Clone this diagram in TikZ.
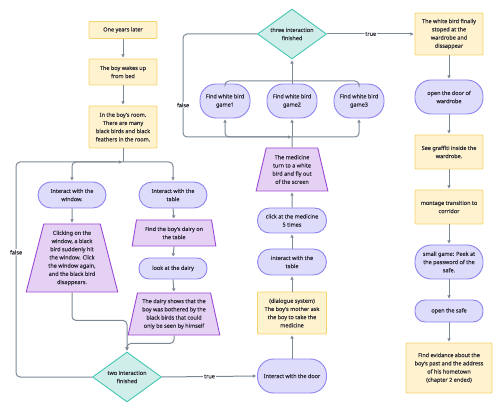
\documentclass[tikz,border=0pt]{standalone}
\usepackage{fontspec}
\setmainfont{Noto Sans}[UprightFeatures={FakeBold=0.35}]
\usetikzlibrary{shapes.geometric,arrows.meta}
\definecolor{amarillo}{HTML}{FFF2CF}
\definecolor{bordeAm}{HTML}{F6D36B}
\definecolor{morado}{HTML}{DEDCFB}
\definecolor{bordeMo}{HTML}{8E84F0}
\definecolor{lila}{HTML}{E5D1F4}
\definecolor{bordeLi}{HTML}{9C48D6}
\definecolor{verde}{HTML}{D0EEE9}
\definecolor{bordeVe}{HTML}{45C6B2}
\definecolor{gris}{HTML}{7D8896}
\definecolor{texto}{HTML}{2E2F38}
\begin{document}
\begin{tikzpicture}[x=1pt,y=-1pt,
    font=\fontsize{5.5}{8.2}\selectfont, text=texto,
    caja/.style={draw=bordeAm, fill=amarillo, line width=0.9pt, minimum width=68pt, align=center, inner sep=1pt, rounded corners=1pt},
    pildora/.style={draw=bordeMo, fill=morado, line width=0.9pt, minimum width=68pt, align=center, inner sep=1pt, rounded corners=13pt},
    trapecio/.style={trapezium, trapezium stretches=true, trapezium angle=75, draw=bordeLi, fill=lila, line width=0.9pt, align=center, inner sep=0pt},
    rombo/.style={diamond, aspect=1.38, draw=bordeVe, fill=verde, line width=0.9pt, align=center, inner sep=0pt, minimum width=69pt, minimum height=50pt},
    trazo/.style={draw=gris, line width=1pt, rounded corners=4pt},
    flecha/.style={trazo, shorten >=1pt, -{Triangle[length=3.2pt,width=3.2pt]}},
    etiqueta/.style={fill=white, inner sep=1pt, text=texto}]
  \useasboundingbox (0,0) rectangle (500,411);

  % Columna izquierda
  \node[caja, minimum height=17pt] (uno) at (123,30) {One years later};
  \node[caja, minimum height=26pt] (despierta) at (123,72) {The boy wakes up\\from bed};
  \node[caja, minimum height=42pt] (cuarto) at (123,127) {In the boy's room.\\There are many\\black birds and black\\feathers in the room.};
  \node[pildora, minimum height=26pt] (ventana) at (72,195) {Interact with the\\window.};
  \node[pildora, minimum height=26pt] (mesa) at (173,195) {Interact with the\\table};
  \node[trapecio, minimum width=92pt, minimum height=68pt] (clic) at (72,258) {Clicking on the\\window, a black\\bird suddenly hit\\the window. Click\\the window again,\\and the black bird\\disappears.};
  \node[trapecio, minimum width=84pt, minimum height=26pt] (diario) at (174,233) {Find the boy's dairy on\\the table};
  \node[pildora, minimum height=21pt, rounded corners=10pt] (mira) at (173,268.5) {look at the dairy};
  \node[trapecio, minimum width=92pt, minimum height=42pt] (muestra) at (174,314) {The dairy shows that the\\boy was bothered by the\\black birds that could\\only be seen by himself};
  \node[rombo] (dos) at (127,377) {two interaction\\finished};

  % Columna central
  \node[pildora, minimum width=69pt, minimum height=34pt, rounded corners=16pt] (puerta) at (292,376) {Interact with the door};
  \node[caja, minimum width=69pt, minimum height=42pt] (dialogo) at (292,313) {(dialogue system)\\The boy's mother ask\\the boy to take the\\medicine};
  \node[pildora, minimum width=69pt, minimum height=26pt] (mesados) at (292,262) {interact with the\\table};
  \node[pildora, minimum width=69pt, minimum height=25pt, rounded corners=12pt] (medicina) at (292,220.5) {click at the medicine\\5 times};
  \node[trapecio, minimum width=72pt, minimum height=43pt] (vuela) at (292,169.5) {The medicine\\turn to a white\\bird and fly out\\of the screen};
  \node[pildora, minimum width=50pt, minimum height=34pt, rounded corners=16pt] (juego1) at (225,101) {Find white bird\\game1};
  \node[pildora, minimum width=50pt, minimum height=34pt, rounded corners=16pt] (juego2) at (292,101) {Find white bird\\game2};
  \node[pildora, minimum width=50pt, minimum height=34pt, rounded corners=16pt] (juego3) at (359,101) {Find white bird\\game3};
  \node[rombo] (tres) at (292,34) {three interaction\\finished};

  % Columna derecha
  \node[caja, minimum height=42pt] (pajaro) at (449,34) {The white bird finally\\stoped at the\\wardrobe and\\dissappear};
  \node[pildora, minimum height=34pt, rounded corners=16pt] (armario) at (449,97) {open the door of\\wardrobe};
  \node[caja, minimum height=34pt] (grafiti) at (449,152) {See graffiti inside the\\wardrobe.};
  \node[caja, minimum height=34pt] (montaje) at (449,207) {montage transition to\\corridor};
  \node[pildora, minimum height=34pt, rounded corners=16pt] (clave) at (449,262) {small game: Peek at\\the password of the\\safe.};
  \node[pildora, minimum height=22pt, rounded corners=10pt] (caja) at (449,311) {open the safe};
  \node[caja, minimum width=86pt, minimum height=50pt] (final) at (449,368) {Find evidance about the\\boy's past and the address\\of his hometown\\(chapter 2 ended)};

  % Puntos de union
  \coordinate (unionA) at (123,162);
  \coordinate (unionB) at (292,137);
  \coordinate (unionC) at (292,81);

  % Flechas de la columna izquierda
  \draw[flecha] (uno.south) -- (despierta.north);
  \draw[flecha] (despierta.south) -- (cuarto.north);
  \draw[trazo] (cuarto.south) -- (unionA);
  \draw[flecha] (unionA) -| (ventana.north);
  \draw[flecha] (unionA) -| (mesa.north);
  \draw[flecha] (ventana.south) -- (clic.north);
  \draw[flecha] (mesa.south) -- (diario.north);
  \draw[flecha] (diario.south) -- (mira.north);
  \draw[flecha] (mira.south) -- (muestra.north);
  \draw[flecha] (clic.south) -- ++(0,28) -| (dos.north);
  \draw[flecha] (muestra.south) -- ++(0,8) -| (dos.north);
  \draw[flecha] (dos.west) -- ++(-76,0) -- node[etiqueta, pos=0.58] {false} ++(0,-215) -- (unionA);
  \draw[flecha] (dos.east) -- node[etiqueta] {true} (puerta.west);

  % Flechas de la columna central
  \draw[flecha] (puerta.north) -- (dialogo.south);
  \draw[flecha] (dialogo.north) -- (mesados.south);
  \draw[flecha] (mesados.north) -- (medicina.south);
  \draw[flecha] (medicina.north) -- (vuela.south);
  \draw[trazo] (vuela.north) -- (unionB);
  \draw[flecha] (unionB) -| (juego1.south);
  \draw[flecha] (unionB) -| (juego3.south);
  \draw[flecha] (unionB) -- (juego2.south);
  \draw[trazo] (juego1.north) |- (unionC);
  \draw[trazo] (juego3.north) |- (unionC);
  \draw[flecha] (juego2.north) -- (tres.south);
  \draw[flecha] (tres.west) -- ++(-74,0) -- node[etiqueta, pos=0.69] {false} ++(0,103) -- (unionB);
  \draw[flecha] (tres.east) -- node[etiqueta] {true} (pajaro.west);

  % Flechas de la columna derecha
  \draw[flecha] (pajaro.south) -- (armario.north);
  \draw[flecha] (armario.south) -- (grafiti.north);
  \draw[flecha] (grafiti.south) -- (montaje.north);
  \draw[flecha] (montaje.south) -- (clave.north);
  \draw[flecha] (clave.south) -- (caja.north);
  \draw[flecha] (caja.south) -- (final.north);
\end{tikzpicture}
\end{document}
